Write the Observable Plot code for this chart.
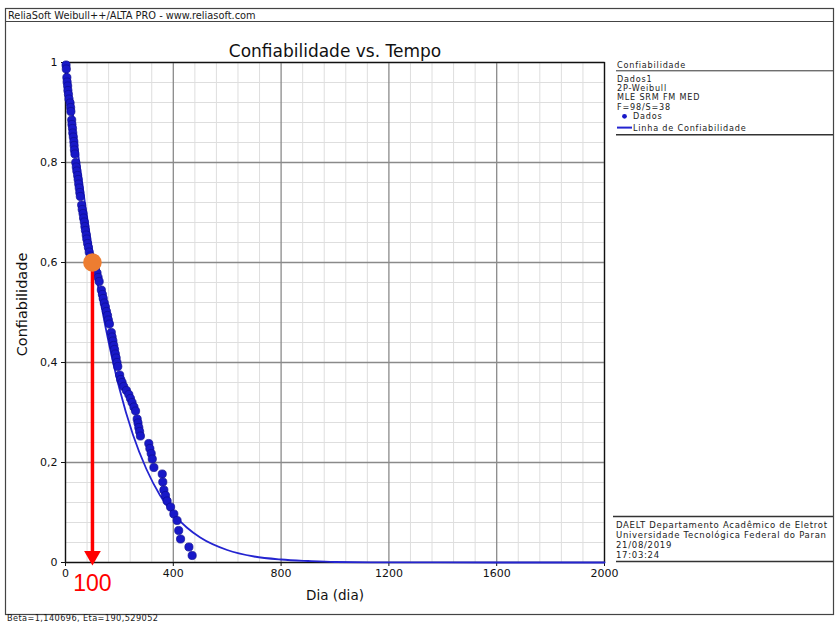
<!DOCTYPE html>
<html>
<head>
<meta charset="utf-8">
<script src="https://cdn.jsdelivr.net/npm/d3@7"></script>
<script src="https://cdn.jsdelivr.net/npm/@observablehq/plot@0.6"></script>
<style>
  html, body { margin: 0; padding: 0; background: #fff; }
  #chart svg { display: block; }
</style>
</head>
<body>
<div id="chart"></div>
<script>
// Observed failure times (days) and their plotted reliability (median ranks)
const failureDays = [
  2, 3, 5, 6, 8, 9, 11, 13, 17, 19, 20, 23, 24, 26, 27, 29, 31, 32, 33, 35,
  38, 40, 42, 45, 47, 49, 51, 53, 55, 60, 62, 65, 67, 70, 72, 74, 77, 79, 82, 85,
  88, 92, 98, 104, 111, 117, 121, 125, 133, 137, 140, 144, 148, 152, 156, 159, 163, 170, 173, 176,
  179, 182, 185, 188, 191, 194, 201, 205, 210, 216, 226, 235, 241, 247, 254, 260, 266, 269, 272, 275,
  278, 309, 313, 318, 322, 328, 359, 361, 365, 371, 377, 390, 402, 414, 420, 427, 458, 470
];
const failureRel = [
  0.995, 0.987, 0.970, 0.961, 0.953, 0.944, 0.936, 0.927, 0.919, 0.910, 0.902, 0.885, 0.876, 0.868, 0.859, 0.851, 0.842, 0.834, 0.825, 0.817,
  0.800, 0.791, 0.783, 0.774, 0.766, 0.757, 0.749, 0.740, 0.732, 0.715, 0.706, 0.698, 0.689, 0.681, 0.672, 0.664, 0.655, 0.647, 0.638, 0.630,
  0.621, 0.613, 0.604, 0.596, 0.587, 0.579, 0.570, 0.562, 0.545, 0.536, 0.528, 0.519, 0.511, 0.502, 0.494, 0.485, 0.477, 0.460, 0.451, 0.443,
  0.434, 0.426, 0.417, 0.409, 0.400, 0.392, 0.375, 0.366, 0.360, 0.352, 0.344, 0.336, 0.328, 0.320, 0.311, 0.303, 0.287, 0.279, 0.270, 0.262,
  0.253, 0.238, 0.228, 0.218, 0.207, 0.190, 0.177, 0.161, 0.145, 0.134, 0.123, 0.111, 0.097, 0.084, 0.064, 0.047, 0.031, 0.014
];

// 2P-Weibull reliability line (Beta=1,140696, Eta=190,529052)
const lineDays = [0, 5, 10, 15, 25, 50, 75, 100, 125, 150, 175, 200, 250, 300, 350, 400, 450, 500, 600, 700, 800, 900, 1000, 1200, 1600, 2000];
const lineRel  = [1, 0.984, 0.966, 0.946, 0.906, 0.805, 0.708, 0.619, 0.539, 0.467, 0.404, 0.348, 0.256, 0.187, 0.135, 0.097, 0.070, 0.050, 0.025, 0.012, 0.006, 0.003, 0.001, 0.0003, 0, 0];

// Highlighted reading
const markerDay = 100;
const markerRel = 0.6;

// Axis ticks and labels
const xTicks = [0, 400, 800, 1200, 1600, 2000];
const xTickLabels = ["0", "400", "800", "1200", "1600", "2000"];
const xMinor = [80, 160, 240, 320, 480, 560, 640, 720, 880, 960, 1040, 1120, 1280, 1360, 1440, 1520, 1680, 1760, 1840, 1920];
const yTicks = [0, 0.2, 0.4, 0.6, 0.8, 1];
const yTickLabels = ["0", "0,2", "0,4", "0,6", "0,8", "1"];
const yMinor = [0.04, 0.08, 0.12, 0.16, 0.24, 0.28, 0.32, 0.36, 0.44, 0.48, 0.52, 0.56, 0.64, 0.68, 0.72, 0.76, 0.84, 0.88, 0.92, 0.96];

// Side panel texts
const legendTitle = "Confiabilidade";
const legendLines = ["Dados1", "2P-Weibull", "MLE SRM FM MED", "F=98/S=38"];
const legendDots = "Dados";
const legendLine = "Linha de Confiabilidade";
const infoLines = ["DAELT Departamento Acadêmico de Eletrot", "Universidade Tecnológica Federal do Paran", "21/08/2019", "17:03:24"];

const points = failureDays.map((d, i) => ({day: d, rel: failureRel[i]}));
const line = lineDays.map((d, i) => ({day: d, rel: lineRel[i]}));

const font = "DejaVu Sans, Verdana, sans-serif";
const dotFill = "#1818c8";
const dotEdge = "#0d0d90";
const lineBlue = "#2424d0";

const chart = Plot.plot({
  width: 838,
  height: 622,
  marginLeft: 65,
  marginRight: 234,
  marginTop: 62,
  marginBottom: 60,
  x: {domain: [0, 2000]},
  y: {domain: [0, 1]},
  style: {fontFamily: font, fontSize: "11px", background: "#fff", color: "#111"},
  marks: [
    Plot.ruleX(xMinor, {stroke: "#dedede", strokeWidth: 1}),
    Plot.ruleY(yMinor, {stroke: "#dedede", strokeWidth: 1}),
    Plot.ruleX(xTicks, {stroke: "#8a8a8a", strokeWidth: 1.3}),
    Plot.ruleY(yTicks, {stroke: "#8a8a8a", strokeWidth: 1.3}),
    Plot.frame({stroke: "#111", strokeWidth: 1.3}),
    Plot.axisX({
      ticks: xTicks, tickSize: 4, tickPadding: 3, label: null,
      tickFormat: d => xTickLabels[xTicks.indexOf(d)]
    }),
    Plot.axisY({
      ticks: yTicks, tickSize: 4, tickPadding: 4, label: null,
      tickFormat: d => yTickLabels[yTicks.indexOf(d)]
    }),
    Plot.text(["Dia (dia)"], {frameAnchor: "bottom", dy: 37, fontSize: 13.5, fill: "#111"}),
    Plot.text(["Confiabilidade"], {frameAnchor: "left", textAnchor: "middle", dx: -43, dy: -8, rotate: -90, fontSize: 14.5, fill: "#111"}),
    Plot.text(["Confiabilidade vs. Tempo"], {frameAnchor: "top", dy: -18, fontSize: 17, fill: "#111"}),
    Plot.line(line, {x: "day", y: "rel", stroke: lineBlue, strokeWidth: 1.8, curve: "monotone-x"}),
    Plot.dot(points, {x: "day", y: "rel", r: 4.1, fill: dotFill, stroke: dotEdge, strokeWidth: 0.7}),
    Plot.ruleX([markerDay], {y1: markerRel, y2: 0, stroke: "#ff0000", strokeWidth: 3.5}),
    Plot.dot([markerDay], {x: d => d, y: 0, dy: -6.6, symbol: "triangle", rotate: 180, r: 6.2, fill: "#ff0000", stroke: "none"}),
    Plot.dot([markerDay], {x: d => d, y: markerRel, r: 9.3, fill: "#ed7d31", stroke: "none"}),
    Plot.text([markerDay], {x: d => d, y: 0, dy: 21, text: d => String(d), fill: "#ff0000", fontSize: 23, fontFamily: "Liberation Sans, Arial, sans-serif"})
  ]
});

document.getElementById("chart").appendChild(chart);

// Report frame, header and side panels
const svg = d3.select(chart);
const g = svg.append("g")
  .attr("font-family", font)
  .attr("fill", "#1a1a1a")
  .attr("text-anchor", "start");

g.append("rect").attr("x", 5.5).attr("y", 8.5).attr("width", 828).attr("height", 606)
  .attr("fill", "none").attr("stroke", "#444").attr("stroke-width", 1.2);
g.append("line").attr("x1", 5.5).attr("x2", 833.5).attr("y1", 21.5).attr("y2", 21.5)
  .attr("stroke", "#444").attr("stroke-width", 1.2);
g.append("text").attr("x", 8).attr("y", 19).attr("font-size", 9.8).text("ReliaSoft Weibull++/ALTA PRO - www.reliasoft.com");
g.append("text").attr("x", 7).attr("y", 620.5).attr("font-size", 8.2).attr("letter-spacing", 0.4)
  .text("Beta=1,140696, Eta=190,529052");

// Legend panel
const small = {size: 8.1, spacing: 0.8};
const panelText = (x, y, t) => g.append("text").attr("x", x).attr("y", y)
  .attr("font-size", small.size).attr("letter-spacing", small.spacing).text(t);
panelText(617, 68.3, legendTitle);
g.append("line").attr("x1", 616).attr("x2", 833).attr("y1", 70.8).attr("y2", 70.8).attr("stroke", "#333").attr("stroke-width", 1);
legendLines.forEach((t, i) => panelText(617, 81.5 + i * 9.4, t));
g.append("circle").attr("cx", 624.5).attr("cy", 116.3).attr("r", 2.4).attr("fill", dotFill);
panelText(633, 119.2, legendDots);
g.append("line").attr("x1", 617).attr("x2", 632).attr("y1", 127.6).attr("y2", 127.6).attr("stroke", lineBlue).attr("stroke-width", 2);
panelText(633, 130.6, legendLine);
g.append("line").attr("x1", 616).attr("x2", 833).attr("y1", 134.8).attr("y2", 134.8).attr("stroke", "#333").attr("stroke-width", 1.6);

// Author panel
g.append("line").attr("x1", 613).attr("x2", 833).attr("y1", 516.5).attr("y2", 516.5).attr("stroke", "#333").attr("stroke-width", 1.3);
infoLines.forEach((t, i) => {
  g.append("text").attr("x", 616).attr("y", 528 + i * 10).attr("font-size", 8.5).attr("letter-spacing", 0.7).text(t);
});
g.append("line").attr("x1", 616).attr("x2", 833).attr("y1", 561.5).attr("y2", 561.5).attr("stroke", "#333").attr("stroke-width", 1.6);
</script>
</body>
</html>
